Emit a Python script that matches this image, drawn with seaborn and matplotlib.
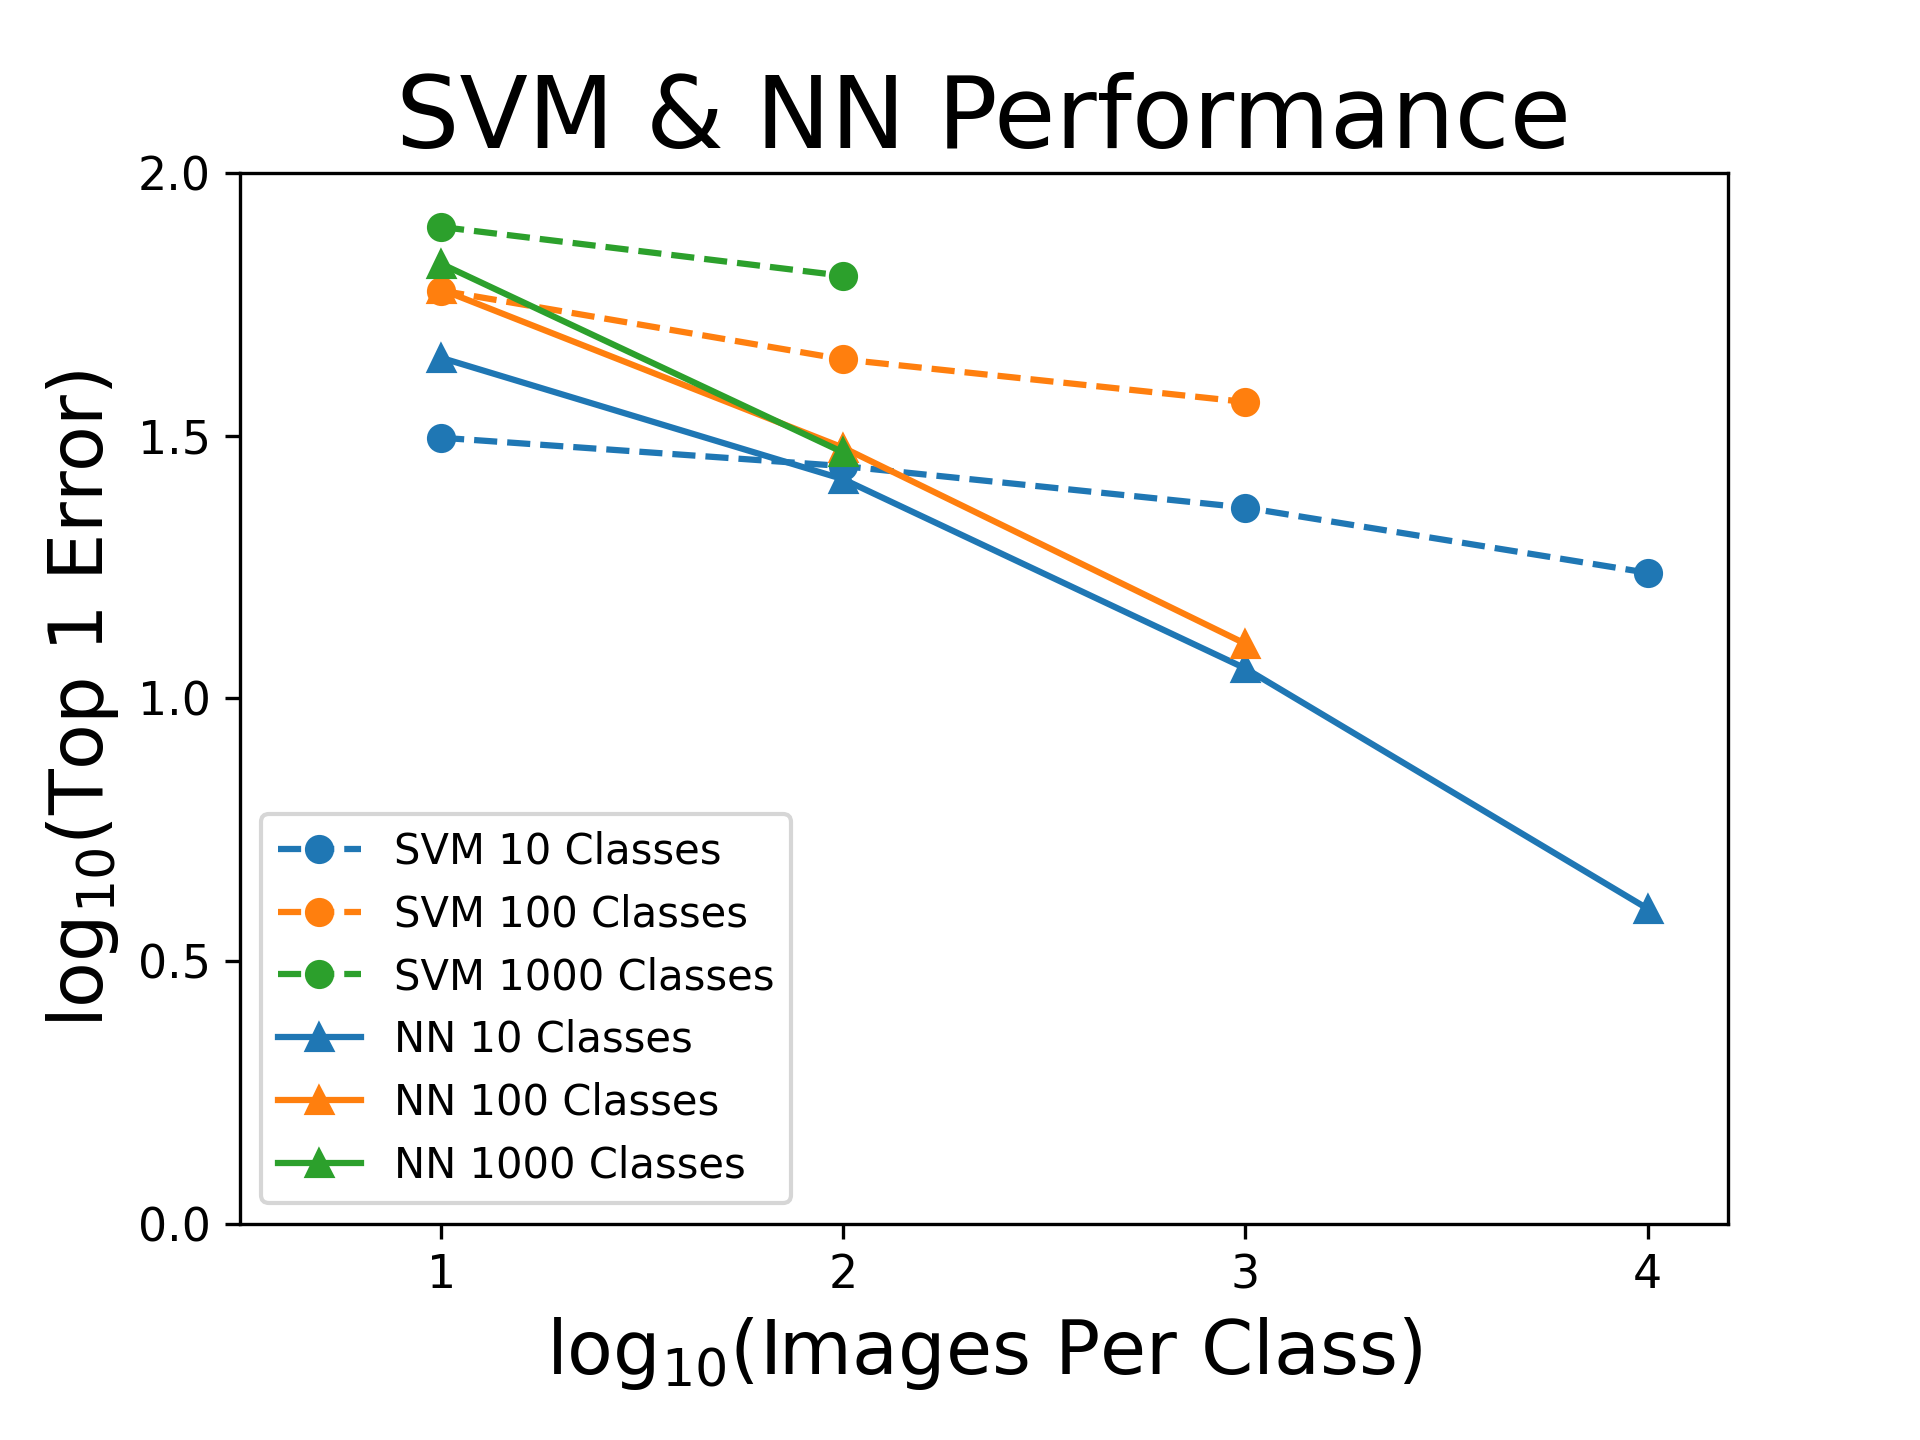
import pandas as pd
import matplotlib.pyplot as plt
import seaborn as sns

# log10 of images per class
images_log = [1, 2, 3, 4]

# log10 of top-1 error
svm_10 = [1.496, 1.442, 1.363, 1.239]
svm_100 = [1.776, 1.645, 1.564]
svm_1000 = [1.897, 1.804]
nn_10 = [1.648, 1.417, 1.057, 0.600]
nn_100 = [1.778, 1.477, 1.104]
nn_1000 = [1.827, 1.468]

series = [
    ('SVM 10 Classes', svm_10, 'o', '--', 'C0'),
    ('SVM 100 Classes', svm_100, 'o', '--', 'C1'),
    ('SVM 1000 Classes', svm_1000, 'o', '--', 'C2'),
    ('NN 10 Classes', nn_10, '^', '-', 'C0'),
    ('NN 100 Classes', nn_100, '^', '-', 'C1'),
    ('NN 1000 Classes', nn_1000, '^', '-', 'C2'),
]

fig, ax = plt.subplots(figsize=(6.4, 4.8), dpi=300)
fig.subplots_adjust(bottom=0.15)

for label, vals, marker, ls, color in series:
    df = pd.DataFrame({'x': images_log[:len(vals)], 'y': vals})
    sns.lineplot(data=df, x='x', y='y', ax=ax, label=label, color=color,
                 marker=marker, linestyle=ls, markersize=6,
                 markeredgecolor=color, markeredgewidth=1)

ax.set_xlim(0.5, 4.2)
ax.set_ylim(0, 2)
ax.set_xticks([1, 2, 3, 4])
ax.set_yticks([0.0, 0.5, 1.0, 1.5, 2.0])
ax.tick_params(labelsize=11)
ax.set_title("SVM & NN Performance", fontsize=24)
ax.set_xlabel(r"log$_{10}$(Images Per Class)", fontsize=18)
ax.set_ylabel(r"log$_{10}$(Top 1 Error)", fontsize=18)
ax.legend(loc='lower left', fontsize=10)

plt.savefig('out.png', dpi=300)
